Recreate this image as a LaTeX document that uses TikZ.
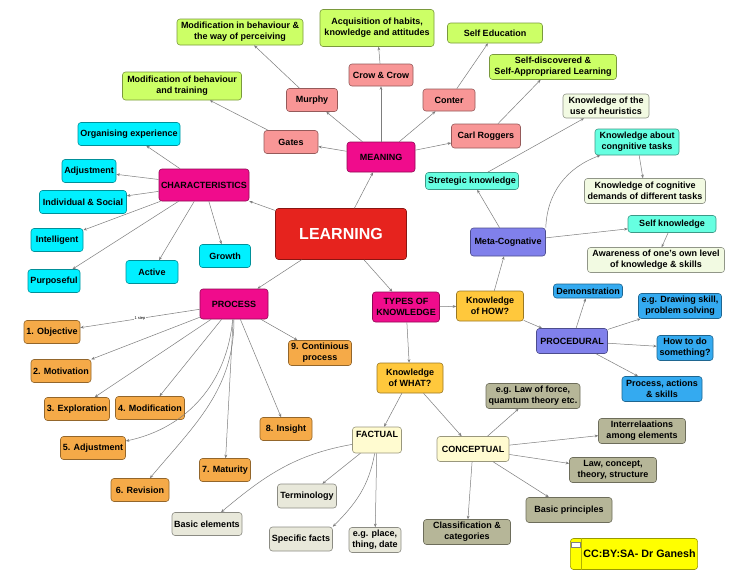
\documentclass[tikz,border=0pt]{standalone}
\usepackage{fontspec}
\setmainfont{Liberation Sans}
\usepackage{tikz}
\usetikzlibrary{arrows.meta,positioning,calc}
\definecolor{lrnred}   {RGB}{230,35,30}
\definecolor{lrnmag}   {RGB}{240,12,140}
\definecolor{lrnsalmon}{RGB}{248,150,150}
\definecolor{lrnlime}  {RGB}{204,255,102}
\definecolor{lrncyan}  {RGB}{0,240,255}
\definecolor{lrnaqua}  {RGB}{102,255,225}
\definecolor{lrnpale}  {RGB}{242,250,226}
\definecolor{lrnperi}  {RGB}{128,128,235}
\definecolor{lrnorange}{RGB}{245,170,72}
\definecolor{lrngold}  {RGB}{255,200,60}
\definecolor{lrnsky}   {RGB}{52,170,240}
\definecolor{lrncream} {RGB}{255,251,208}
\definecolor{lrnbeige} {RGB}{232,232,218}
\definecolor{lrnolive} {RGB}{182,182,152}
\definecolor{lrnyellow}{RGB}{255,255,0}
\definecolor{lrnedge}  {RGB}{125,125,125}
\tikzset{
  box/.style={rectangle,rounded corners=3pt,draw=#1!60!black,fill=#1,
              line width=0.6pt,text=black,inner sep=2pt,align=center,
              font=\fontsize{9}{11}\selectfont\bfseries},
  box/.default=lrnlime,
  sz/.style 2 args={minimum width=#1,minimum height=#2},
  arr/.style={-{Stealth[length=3.5pt,width=2.8pt]},line width=0.5pt,draw=#1},
  arr/.default=lrnedge,
  steplbl/.style={font=\fontsize{4}{4}\selectfont,fill=white,inner sep=0.3pt},
}
\begin{document}
\begin{tikzpicture}[x=1pt,y=-1pt]
    \fill[white] (0,0) rectangle (750,576);
    \useasboundingbox (0,0) rectangle (750,576);
    \node[box=lrnred,sz={131}{51},text=white,font=\fontsize{16}{18}\selectfont\bfseries]
         (learning) at (341,234) {LEARNING};
    \node[box=lrnmag,sz={68}{30}] (meaning) at (381,157) {MEANING};
    \node[box=lrnmag,sz={90}{32}] (chars)   at (204,185) {CHARACTERISTICS};
    \node[box=lrnmag,sz={68}{30}] (process) at (234,304) {PROCESS};
    \node[box=lrnmag,sz={67}{30}] (types)   at (406,307) {TYPES OF\\KNOWLEDGE};
    % meaning
    \node[box=lrnsalmon,sz={54}{23}] (gates)   at (291,142) {Gates};
    \node[box=lrnsalmon,sz={51}{23}] (murphy)  at (312,100) {Murphy};
    \node[box=lrnsalmon,sz={64}{22}] (crow)    at (381,75)  {Crow \& Crow};
    \node[box=lrnsalmon,sz={52}{22}] (conter)  at (449,100) {Conter};
    \node[box=lrnsalmon,sz={69}{24}] (roggers) at (486,136) {Carl Roggers};
    \node[box,sz={119}{28}] (gatesdef)   at (182,86) {Modification of behaviour\\and training};
    \node[box,sz={126}{26}] (murphydef)  at (240,32) {Modification in behaviour \&\\the way of perceiving};
    \node[box,sz={114}{37}] (crowdef)    at (377,28) {Acquisition of habits,\\knowledge and attitudes};
    \node[box,sz={95}{20}]  (conterdef)  at (495,33) {Self Education};
    \node[box,sz={127}{25}] (roggersdef) at (553,67) {Self-discovered \&\\Self-Appropriared Learning};
    % characteristics
    \foreach \n/\x/\y/\w/\t in {orgexp/129/134/102/{Organising experience},
        adjust/89/171/54/Adjustment,indsoc/83/202/87/{Individual \& Social},
        intell/57/240/52/Intelligent,purpose/54/281/52/Purposeful,
        active/152/272/52/Active,growth/225/256/51/Growth}
      \node[box=lrncyan,sz={\w}{23}] (\n) at (\x,\y) {\t};
    % process
    \foreach \n/\x/\y/\w/\t in {obj/52/332/56/{1. Objective},motiv/61/371/60/{2. Motivation},
        explor/77/409/65/{3. Exploration},modif/150/408/69/{4. Modification},
        adj5/93/448/65/{5. Adjustment},revis/140/490/58/{6. Revision},
        matur/225/470/51/{7. Maturity},insight/286/429/52/{8. Insight}}
      \node[box=lrnorange,sz={\w}{23}] (\n) at (\x,\y) {\t};
    \node[box=lrnorange,sz={63}{25}] (contin) at (320,353) {9. Continious\\process};
    % types of knowledge
    \node[box=lrngold,sz={67}{30}] (how)  at (490,306) {Knowledge\\of HOW?};
    \node[box=lrngold,sz={66}{30}] (what) at (410,378) {Knowledge\\of WHAT?};
    \node[box=lrnperi,sz={75}{28}] (meta) at (508,242) {Meta-Cognative};
    \node[box=lrnaqua,sz={93}{17}] (strat)   at (472,181) {Stretegic knowledge};
    \node[box=lrnpale,sz={86}{24}] (heur)    at (606,106) {Knowledge of the\\use of heuristics};
    \node[box=lrnaqua,sz={84}{26}] (kabout)  at (637,142) {Knowledge about\\congnitive tasks};
    \node[box=lrnpale,sz={121}{25}] (kdemand) at (645,191) {Knowledge of cognitive\\demands of different tasks};
    \node[box=lrnaqua,sz={88}{17}] (selfk)   at (672,224) {Self knowledge};
    \node[box=lrnpale,sz={137}{25}] (aware)  at (656,260) {Awareness of one's own level\\of knowledge \& skills};
    \node[box=lrnperi,sz={71}{25}] (proc)    at (572,341) {PROCEDURAL};
    \node[box=lrnsky,sz={69}{14}] (demo)      at (588,291) {Demonstration};
    \node[box=lrnsky,sz={83}{25}] (drawskill) at (680,306) {e.g. Drawing skill,\\problem solving};
    \node[box=lrnsky,sz={56}{25}] (howdo)     at (685,348) {How to do\\something?};
    \node[box=lrnsky,sz={80}{25}] (pas)       at (662,389) {Process, actions\\\& skills};
    \node[box=lrncream,sz={49}{26},text depth=12pt] (factual) at (377,440) {FACTUAL};
    \node[box=lrncream,sz={72}{25}] (concept) at (473,449) {CONCEPTUAL};
    \node[box=lrnolive,sz={94}{25}] (lawforce) at (533,396) {e.g. Law of force,\\quamtum theory etc.};
    \node[box=lrnolive,sz={87}{25}] (interrel) at (642,431) {Interrelaations\\among elements};
    \node[box=lrnolive,sz={87}{25}] (lawconc)  at (613,470) {Law, concept,\\theory, structure};
    \node[box=lrnolive,sz={86}{25}] (basicpr)  at (569,510) {Basic principles};
    \node[box=lrnolive,sz={87}{25}] (classif)  at (467,532) {Classification \&\\categories};
    \node[box=lrnbeige,sz={70}{23}] (basicel) at (207,524) {Basic elements};
    \node[box=lrnbeige,sz={59}{24}] (termin)  at (307,496) {Terminology};
    \node[box=lrnbeige,sz={63}{24}] (specf)   at (301,539) {Specific facts};
    \node[box=lrnbeige,sz={52}{25}] (egplace) at (375,540) {e.g. place,\\thing, date};
    % licence tag
    \node[box=lrnyellow,sz={127}{31},font=\fontsize{10.7}{12}\selectfont\bfseries]
         (cc) at (634,554) {\hspace*{11pt}CC:BY:SA- Dr Ganesh};
    \draw[lrnyellow!70!black,line width=0.4pt] ([xshift=11pt]cc.north west) -- ([xshift=11pt]cc.south west);
    \draw[gray,fill=white,line width=0.4pt] ([shift={(1.5,4)}]cc.north west) rectangle ([shift={(10,9)}]cc.north west);
    % connectors
    \foreach \t in {meaning,chars,process,types} \draw[arr] (learning) -- (\t);
    \foreach \t in {gates,murphy,crow,conter,roggers} \draw[arr] (meaning) -- (\t);
    \foreach \s/\t in {gates/gatesdef,murphy/murphydef,crow/crowdef,conter/conterdef,roggers/roggersdef}
      \draw[arr] (\s) -- (\t);
    \foreach \t in {orgexp,adjust,indsoc,intell,purpose,active,growth} \draw[arr] (chars) -- (\t);
    \draw[arr] (process) -- node[steplbl,pos=0.5]{1 step} (obj);
    \foreach \t in {motiv,explor,modif,matur,insight,contin} \draw[arr] (process) -- (\t);
    \draw[arr] (process) to[out=-95,in=12] (adj5);
    \draw[arr] (process) to[out=-90,in=50] (revis);
    \foreach \t in {how,what} \draw[arr] (types) -- (\t);
    \foreach \t in {meta,proc} \draw[arr] (how) -- (\t);
    \foreach \t in {strat,selfk} \draw[arr] (meta) -- (\t);
    \draw[arr] (meta.north east) to[out=88,in=200] (kabout);
    \draw[arr] (strat) -- (heur);
    \draw[arr] (kabout) -- (kdemand);
    \draw[arr] (selfk) -- (aware);
    \foreach \t in {demo,drawskill,howdo,pas} \draw[arr] (proc) -- (\t);
    \foreach \t in {factual,concept} \draw[arr] (what) -- (\t);
    \draw[arr] (factual) to[out=190,in=40] (basicel);
    \draw[arr] (factual) -- (termin);
    \draw[arr] (factual) to[out=-100,in=45] (specf.north east);
    \draw[arr] (factual) -- (egplace);
    \foreach \t in {lawforce,interrel,lawconc,basicpr,classif} \draw[arr] (concept) -- (\t);
\end{tikzpicture}
\end{document}
